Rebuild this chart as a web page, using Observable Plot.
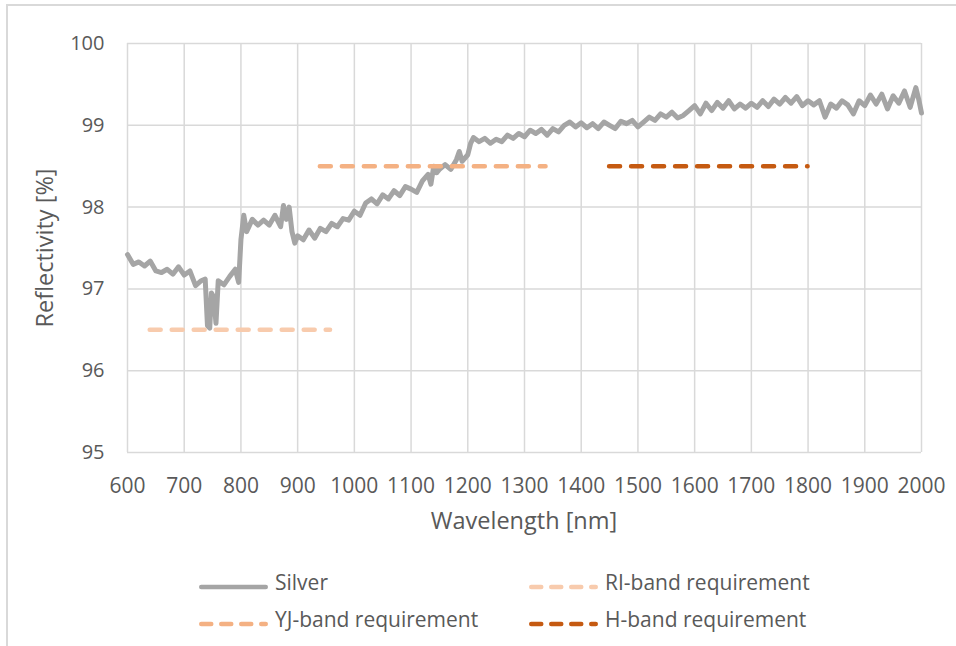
<!DOCTYPE html>
<html>
<head>
<meta charset="utf-8">
<script src="https://cdn.jsdelivr.net/npm/d3@7"></script>
<script src="https://cdn.jsdelivr.net/npm/@observablehq/plot@0.6"></script>
<style>
  html, body { margin: 0; padding: 0; background: #fff; }
  #wrap { position: relative; width: 956px; height: 646px; overflow: hidden; font-family: "Open Sans", sans-serif; color: #595959; }
  #frame { position: absolute; left: 6px; top: 4px; width: 960px; height: 660px; border-left: 2px solid #d9d9d9; border-top: 2px solid #d9d9d9; }
  #chart { position: absolute; left: 0; top: 0; }
  .title { position: absolute; font-size: 23.5px; color: #595959; white-space: nowrap; line-height: 1; }
  #ytitle { left: 45px; top: 248px; transform: translate(-50%, -50%) rotate(-90deg); }
  #xtitle { left: 524px; top: 521px; transform: translate(-50%, -50%); }
  .legsvg { position: absolute; }
  .legtxt { position: absolute; font-size: 21px; line-height: 28px; height: 28px; color: #595959; white-space: nowrap; }
</style>
</head>
<body>
<div id="wrap">
  <div id="frame"></div>
  <div id="chart"></div>
  <div class="title" id="ytitle">Reflectivity [%]</div>
  <div class="title" id="xtitle">Wavelength [nm]</div>
  <div id="legend"></div>
</div>
<script>
// Silver reflectivity curve (wavelength in nm, reflectivity in %)
const wavelengths = [
  600,610,620,630,640,650,660,670,680,690,
  700,710,720,730,737,741,745,748,752,756,760,770,780,790,796,
  800,805,810,820,830,840,850,860,870,875,880,885,890,895,
  900,910,920,930,940,950,960,970,980,990,
  1000,1010,1020,1030,1040,1050,1060,1070,1080,1090,
  1100,1110,1120,1130,1135,1140,1145,1150,1160,1170,1180,1185,1190,
  1200,1205,1210,1220,1230,1240,1250,1260,1270,1280,1290,
  1300,1310,1320,1330,1340,1350,1360,1370,1380,1390,
  1400,1410,1420,1430,1440,1450,1460,1470,1480,1490,
  1500,1510,1520,1530,1540,1550,1560,1570,1580,1590,
  1600,1610,1620,1630,1640,1650,1660,1670,1680,1690,
  1700,1710,1720,1730,1740,1750,1760,1770,1780,1790,
  1800,1810,1820,1830,1840,1850,1860,1870,1880,1890,
  1900,1910,1920,1930,1940,1950,1960,1970,1980,1990,1995,2000
];
const silver = [
  97.42,97.30,97.33,97.28,97.34,97.22,97.20,97.24,97.18,97.27,
  97.17,97.22,97.04,97.10,97.12,96.55,96.52,96.95,96.90,96.58,97.10,97.05,97.15,97.24,97.08,
  97.60,97.90,97.70,97.85,97.78,97.84,97.78,97.90,97.76,98.02,97.85,98.00,97.70,97.56,
  97.65,97.60,97.72,97.62,97.74,97.70,97.80,97.76,97.86,97.84,
  97.95,97.90,98.05,98.10,98.04,98.15,98.10,98.20,98.14,98.25,
  98.22,98.18,98.32,98.40,98.28,98.50,98.42,98.46,98.52,98.46,98.58,98.68,98.56,
  98.64,98.78,98.85,98.80,98.84,98.78,98.83,98.80,98.88,98.84,98.90,
  98.86,98.94,98.90,98.95,98.88,98.96,98.92,99.00,99.04,98.98,
  99.03,98.97,99.02,98.96,99.04,99.00,98.96,99.05,99.02,99.06,
  98.98,99.04,99.10,99.06,99.14,99.10,99.16,99.09,99.12,99.18,
  99.24,99.14,99.27,99.18,99.28,99.21,99.30,99.20,99.26,99.21,
  99.27,99.22,99.30,99.23,99.32,99.26,99.34,99.27,99.35,99.24,
  99.30,99.25,99.30,99.10,99.26,99.21,99.30,99.25,99.14,99.30,
  99.24,99.37,99.26,99.38,99.20,99.36,99.27,99.42,99.22,99.46,99.32,99.15
];

// Band requirements
const reqNames  = ["RI-band requirement", "YJ-band requirement", "H-band requirement"];
const reqStart  = [640, 940, 1450];
const reqEnd    = [958, 1338, 1800];
const reqValue  = [96.5, 98.5, 98.5];
const reqColors = ["#F8CBAD", "#F4B183", "#C55A11"];

const silverColor = "#A5A5A5";
const xTicks = [600,700,800,900,1000,1100,1200,1300,1400,1500,1600,1700,1800,1900,2000];
const yTicks = [95,96,97,98,99,100];

const silverData = wavelengths.map((w, i) => ({w, r: silver[i]}));
const reqData = reqNames.map((n, i) => ({name: n, x1: reqStart[i], x2: reqEnd[i], y: reqValue[i], color: reqColors[i]}));

const chart = Plot.plot({
  width: 956,
  height: 545,
  marginLeft: 127,
  marginRight: 35,
  marginTop: 43,
  marginBottom: 93,
  style: {fontFamily: "'Open Sans', sans-serif", background: "transparent"},
  x: {domain: [600, 2000]},
  y: {domain: [95, 100]},
  marks: [
    Plot.gridX(xTicks, {stroke: "#d9d9d9", strokeOpacity: 1, strokeWidth: 1.5}),
    Plot.gridY(yTicks, {stroke: "#d9d9d9", strokeOpacity: 1, strokeWidth: 1.5}),
    Plot.axisX({ticks: xTicks, tickSize: 0, tickPadding: 26, label: null, fontSize: 21, fill: "#595959", tickFormat: d => String(d)}),
    Plot.axisY({ticks: yTicks, tickSize: 0, tickPadding: 23, label: null, fontSize: 20, fill: "#595959", tickFormat: d => String(d)}),
    Plot.line(silverData, {x: "w", y: "r", stroke: silverColor, strokeWidth: 5, strokeLinejoin: "round", strokeLinecap: "round"}),
    ...reqData.map(d => Plot.ruleY([d], {y: "y", x1: "x1", x2: "x2", stroke: d.color, strokeWidth: 4.5, strokeDasharray: "11,11", strokeLinecap: "round"}))
  ]
});
document.getElementById("chart").appendChild(chart);

// Legend (HTML below the plot)
const legendItems = [
  {name: "Silver", color: silverColor, dash: null, col: 0, row: 0},
  {name: reqNames[0], color: reqColors[0], dash: "10,10", col: 1, row: 0},
  {name: reqNames[1], color: reqColors[1], dash: "10,10", col: 0, row: 1},
  {name: reqNames[2], color: reqColors[2], dash: "10,10", col: 1, row: 1}
];
const colX = [195, 525];
const rowY = [582, 619];
const legend = document.getElementById("legend");
legendItems.forEach(it => {
  const x = colX[it.col], y = rowY[it.row];
  const svg = document.createElement("div");
  svg.className = "legsvg";
  svg.style.left = x + "px";
  svg.style.top = (y - 6) + "px";
  const dash = it.dash ? `stroke-dasharray="${it.dash}"` : "";
  svg.innerHTML = `<svg width="80" height="12"><line x1="6.25" y1="6" x2="70.75" y2="6" stroke="${it.color}" stroke-width="4.5" stroke-linecap="round" ${dash}/></svg>`;
  legend.appendChild(svg);
  const t = document.createElement("div");
  t.className = "legtxt";
  t.style.left = (x + 80) + "px";
  t.style.top = (y - 14) + "px";
  t.textContent = it.name;
  legend.appendChild(t);
});
</script>
</body>
</html>
